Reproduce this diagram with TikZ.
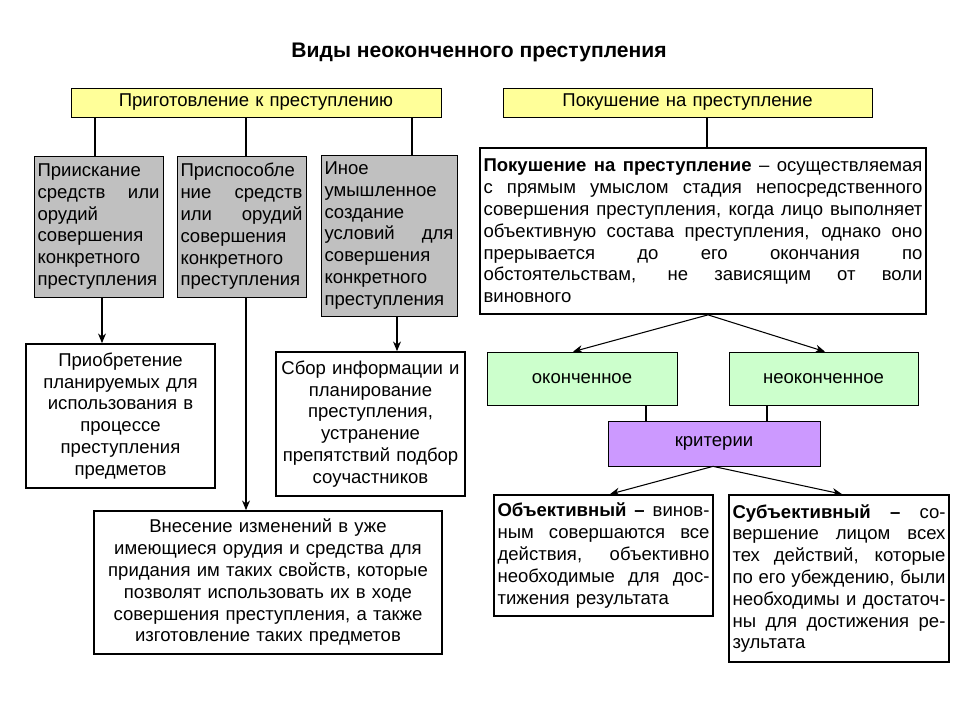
\documentclass[tikz,border=0pt]{standalone}
\usepackage{fontspec}
\setmainfont{Liberation Sans}
\usetikzlibrary{positioning,calc,arrows.meta}
\setlength{\parindent}{0pt}
\definecolor{headyellow}{RGB}{255,255,153}
\definecolor{boxgrey}{RGB}{192,192,192}
\definecolor{paleGreen}{RGB}{204,255,204}
\definecolor{lilac}{RGB}{204,153,255}
% one justified line of a box
\newcommand*{\jl}[1]{{\spaceskip=0pt\xspaceskip=0pt\makebox[\hsize][s]{#1}}}

\begin{document}
\begin{tikzpicture}[x=0.02cm,y=-0.02cm,
  every node/.style={font=\fontsize{10.55}{12.4}\selectfont,inner sep=0.07cm},
  headbox/.style={draw,fill=headyellow,minimum height=0.58cm,align=center},
  greybox/.style={draw,fill=boxgrey,align=left},
  whitebox/.style={draw,line width=1pt,fill=white},
  kindbox/.style={draw,fill=paleGreen,minimum width=3.8cm,minimum height=1.06cm},
  link/.style={line width=0.6pt},
  arr/.style={link,-{Stealth[length=5.5pt,width=4.5pt]}}]
\useasboundingbox (0,0) rectangle (960,720);
% Title
\node[font=\fontsize{12}{14}\selectfont\bfseries] (title) at (479,52) {Виды неоконченного преступления};
% Two stages
\node[headbox,text width=7.26cm] (prep) at (256,102.5) {Приготовление к преступлению};
\node[headbox,text width=7.24cm] (att) at (687.5,102.5) {Покушение на преступление};
% Forms of preparation
\node[greybox,text width=2.44cm,minimum height=2.82cm] (search) at (98.5,226.5)
  {Приискание\\ \jl{средств или}\\ орудий\\ совершения\\ конкретного\\ преступления};
\node[greybox,text width=2.44cm,minimum height=2.82cm] (adapt) at (241.5,226.5)
  {Приспособле\\ \jl{ние средств}\\ \jl{или орудий}\\ совершения\\ конкретного\\ преступления};
\node[greybox,text width=2.58cm,minimum height=3.22cm] (other) at (389,235.5)
  {Иное\\ умышленное\\ создание\\ \jl{условий для}\\ совершения\\ конкретного\\ преступления};
\node[whitebox,align=center,text width=3.64cm,minimum height=2.88cm] (acquire) at (120.5,416)
  {Приобретение\\ планируемых для\\ использования в\\ процессе\\ преступления\\ предметов};
\node[whitebox,align=center,text width=3.64cm,minimum height=2.88cm] (collect) at (370.5,424)
  {Сбор информации и\\ планирование\\ преступления,\\ устранение\\ препятствий подбор\\ соучастников};
\node[whitebox,align=center,text width=6.82cm,minimum height=2.86cm] (modify) at (268,582.5)
  {Внесение изменений в уже\\ имеющиеся орудия и средства для\\ придания им таких свойств, которые\\ позволят использовать их в ходе\\ совершения преступления, а также\\ изготовление таких предметов};
% Attempt
\node[whitebox,align=left,text width=8.78cm,minimum height=3.32cm] (defin) at (703,231)
  {\jl{\textbf{Покушение на преступление} – осуществляемая}\\
   \jl{с прямым умыслом стадия непосредственного}\\
   \jl{совершения преступления, когда лицо выполняет}\\
   \jl{объективную состава преступления, однако оно}\\
   \jl{прерывается до его окончания по}\\
   \jl{обстоятельствам, не зависящим от воли}\\
   виновного};
\node[kindbox] (finished) at (582,378.5) {оконченное};
\node[kindbox,minimum width=3.78cm] (unfinished) at (823.5,378.5) {неоконченное};
\node[draw,fill=lilac,minimum width=4.24cm,minimum height=0.9cm] (crit) at (714,443.5) {критерии};
\node[whitebox,align=left,text width=4.24cm,minimum height=2.42cm] (objective) at (603.5,555.5)
  {\jl{\textbf{Объективный –} винов-}\\
   \jl{ным совершаются все}\\
   \jl{действия, объективно}\\
   \jl{необходимые для дос-}\\
   тижения результата};
\node[whitebox,align=left,text width=4.26cm,minimum height=3.34cm] (subjective) at (839,578.5)
  {\jl{\textbf{Субъективный –} со-}\\
   \jl{вершение лицом всех}\\
   \jl{тех действий, которые}\\
   \jl{по его убеждению, были}\\
   \jl{необходимы и достаточ-}\\
   \jl{ны для достижения ре-}\\
   зультата};
% Connectors on the left
\draw[link] (prep.south -| 95,0) -- (search.north -| 95,0);
\draw[link] (prep.south -| 246,0) -- (adapt.north -| 246,0);
\draw[link] (prep.south -| 412,0) -- (other.north -| 412,0);
\draw[arr] (search.south -| 102,0) -- (acquire.north -| 102,0);
\draw[arr] (adapt.south -| 246,0) -- (modify.north -| 246,0);
\draw[arr] (other.south -| 397,0) -- (collect.north -| 397,0);
% Connectors on the right
\draw[link] (att.south -| 707,0) -- (defin.north -| 707,0);
\coordinate (split) at (defin.south -| 708,0);
\draw[arr] (split) -- (finished.north -| 573,0);
\draw[arr] (split) -- (unfinished.north -| 825,0);
\draw[link] (finished.south -| 646,0) -- (crit.north -| 646,0);
\draw[link] (unfinished.south -| 767,0) -- (crit.north -| 767,0);
\coordinate (fork) at (crit.south -| 713,0);
\draw[arr] (fork) -- (objective.north -| 610,0);
\draw[arr] (fork) -- (subjective.north -| 842,0);
\end{tikzpicture}
\end{document}
